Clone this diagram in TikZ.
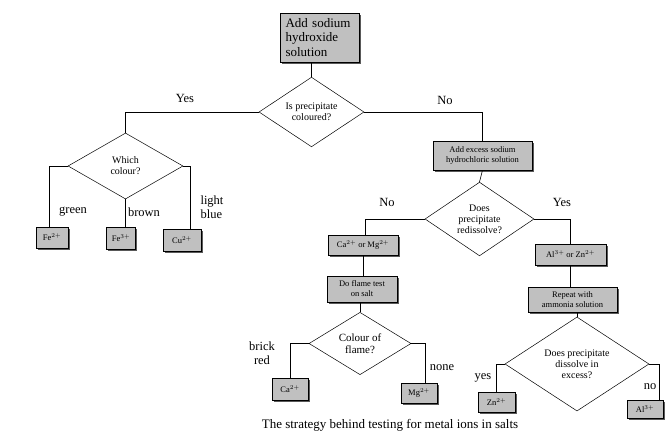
\documentclass[tikz,border=0pt]{standalone}
\usepackage{fontspec}
\setmainfont{Liberation Serif}
\usetikzlibrary{positioning,shapes.geometric,shadows}

\definecolor{boxgrey}{HTML}{C0C0C0}

\begin{document}
\begin{tikzpicture}[
    x=1pt, y=-1pt,
    box/.style={
        rectangle,
        draw=black,
        fill=boxgrey,
        line width=0.5pt,
        inner sep=1pt,
        align=center,
        font=\fontsize{8.5}{10}\selectfont,
        drop shadow={shadow xshift=1.5pt, shadow yshift=-1.5pt, fill=black!65, opacity=1}
    },
    decision/.style={
        diamond,
        draw=black,
        line width=0.5pt,
        inner sep=0pt,
        align=center,
        font=\fontsize{10}{11}\selectfont
    },
    lbl/.style={font=\fontsize{12.5}{14}\selectfont, inner sep=0pt},
    line/.style={line width=0.6pt, black}
]
\useasboundingbox (0,0) rectangle (669,445);

% top of the tree
\node[box, minimum width=79pt, minimum height=49pt, align=left, text width=68pt,
      font=\fontsize{13}{14.5}\selectfont] (start) at (319.5,37.5)
      {Add sodium\\hydroxide\\solution};
\node[decision, minimum width=105pt, minimum height=52pt] (q1) at (311.5,112)
      {Is precipitate\\coloured?};

% coloured branch
\node[decision, minimum width=115pt, minimum height=66pt] (colour) at (125.5,166)
      {Which\\colour?};
\node[box, minimum width=32pt, minimum height=21pt] (fe2) at (52,237.5) {Fe$^{2+}$};
\node[box, minimum width=29pt, minimum height=22pt] (fe3) at (121,238) {Fe$^{3+}$};
\node[box, minimum width=38pt, minimum height=22pt] (cu) at (182,240) {Cu$^{2+}$};

% not coloured branch
\node[box, minimum width=99pt, minimum height=29pt] (excess) at (482.5,155.5)
      {Add excess sodium\\hydrochloric solution};
\node[decision, minimum width=109pt, minimum height=70pt] (q2) at (479.5,219)
      {Does\\precipitate\\redissolve?};

\node[box, minimum width=70pt, minimum height=20pt] (camg) at (363,245) {Ca$^{2+}$ or Mg$^{2+}$};
\node[box, minimum width=70pt, minimum height=26pt] (flame) at (362,289) {Do flame test\\on salt};
\node[decision, minimum width=102pt, minimum height=49pt,
      font=\fontsize{11}{12}\selectfont] (q3) at (360,343.5)
      {Colour of\\flame?};
\node[box, minimum width=36pt, minimum height=22pt] (ca) at (290,389) {Ca$^{2+}$};
\node[box, minimum width=36pt, minimum height=20pt] (mg) at (419,393) {Mg$^{2+}$};

\node[box, minimum width=71pt, minimum height=21pt] (alzn) at (570.5,254.5) {Al$^{3+}$ or Zn$^{2+}$};
\node[box, minimum width=89pt, minimum height=25pt] (repeat) at (572.5,299.5) {Repeat with\\ammonia solution};
\node[decision, minimum width=144pt, minimum height=64pt] (q4) at (577,364)
      {Does precipitate\\dissolve in\\excess?};
\node[box, minimum width=37pt, minimum height=20pt] (zn) at (496.5,402) {Zn$^{2+}$};
\node[box, minimum width=36pt, minimum height=18pt] (al) at (645,409) {Al$^{3+}$};

% branch labels
\node[lbl] (yes1) at (185,98) {Yes};
\node[lbl] (no1) at (445,100) {No};
\node[lbl] (green) at (73,212) {green};
\node[lbl] (brown) at (144,212) {brown};
\node[lbl, align=left] (light) at (212,207) {light\\blue};
\node[lbl] (no2) at (387,202) {No};
\node[lbl] (yes2) at (562,202) {Yes};
\node[lbl, align=center] (brick) at (262,353) {brick\\red};
\node[lbl] (none) at (442,368) {none};
\node[lbl] (yes3) at (483,378) {yes};
\node[lbl] (no3) at (650,387) {no};

\node[lbl, font=\fontsize{13}{14}\selectfont] (caption) at (390,425)
      {The strategy behind testing for metal ions in salts};

% connectors
\draw[line] (q1.north) -- (q1.north |- start.south);
\draw[line] (q1.west) -| (colour.north);
\draw[line] (q1.east) -| (excess.north);
\draw[line] (colour.west) -| ([xshift=-3pt]fe2.north);
\draw[line] (colour.south) -- (colour.south |- fe3.north);
\draw[line] (colour.east) -| ([xshift=8pt]cu.north);
\draw[line] (excess.south) -- (q2.north);
\draw[line] (q2.west) -| ([xshift=2pt]camg.north);
\draw[line] (camg.south) -- (camg.south |- flame.north);
\draw[line] (q3.north) -- (q3.north |- flame.south);
\draw[line] (q3.west) -| (ca.north);
\draw[line] (q3.east) -| ([xshift=6pt]mg.north);
\draw[line] (q2.east) -| (alzn.north);
\draw[line] (alzn.south) -- (alzn.south |- repeat.north);
\draw[line] (q4.north) -- (q4.north |- repeat.south);
\draw[line] (q4.west) -| (zn.north);
\draw[line] (q4.east) -| ([xshift=14pt]al.north);
\end{tikzpicture}
\end{document}
